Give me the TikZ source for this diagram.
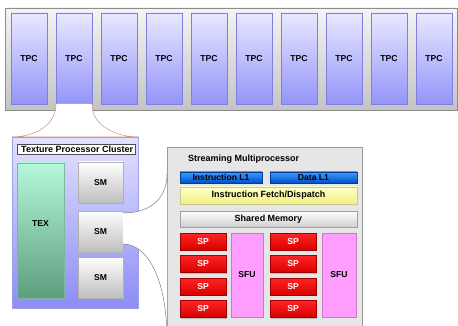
\documentclass[tikz,border=0pt]{standalone}
\usepackage{fontspec}
\setmainfont{Liberation Sans}
\usetikzlibrary{shadows}
\definecolor{bart}{HTML}{F4F4F4}\definecolor{barb}{HTML}{C4C4C4}\definecolor{bard}{HTML}{8C8C8C}
\definecolor{tpct}{HTML}{E8E8FF}\definecolor{tpcbot}{HTML}{9494FA}\definecolor{tpcd}{HTML}{7F7FE0}
\definecolor{clt}{HTML}{E2E2FF}\definecolor{clb}{HTML}{8C8CF5}\definecolor{cld}{HTML}{A0A0E8}
\definecolor{text}{HTML}{B4F7DA}\definecolor{texb}{HTML}{5E9E7E}\definecolor{texd}{HTML}{7CB89A}
\definecolor{smt}{HTML}{FFFFFF}\definecolor{smb}{HTML}{BEBEBE}\definecolor{smd}{HTML}{B0B0B0}
\definecolor{smbox}{HTML}{E6E6E6}\definecolor{smboxd}{HTML}{9A9A9A}
\definecolor{l1t}{HTML}{3D9BFF}\definecolor{l1b}{HTML}{0050C8}\definecolor{l1d}{HTML}{003C9A}
\definecolor{fdt}{HTML}{FFFFCC}\definecolor{fdb}{HTML}{F2F07E}\definecolor{fdd}{HTML}{C8C890}
\definecolor{sht}{HTML}{FFFFFF}\definecolor{shb}{HTML}{CFCFCF}\definecolor{shd}{HTML}{A0A0A0}
\definecolor{spt}{HTML}{FF2424}\definecolor{spb}{HTML}{D80000}\definecolor{spd}{HTML}{A00000}
\definecolor{sfu}{HTML}{FF9EFF}\definecolor{sfud}{HTML}{C878C8}
\definecolor{funnel}{HTML}{D8906C}\definecolor{conn}{HTML}{808080}
\begin{document}
\begin{tikzpicture}[x=1pt,y=-1pt,
  font=\bfseries\fontsize{8.6}{10}\selectfont,
  title/.style={font=\bfseries\fontsize{9}{10}\selectfont},
  box/.style={draw, anchor=north west, inner sep=0pt, outer sep=0pt, line width=0.6pt},
  shad/.style={drop shadow={shadow xshift=1pt,shadow yshift=-1pt,opacity=0.35,fill=black!60}},
  tpcbox/.style={box, shad, draw=tpcd, top color=tpct, bottom color=tpcbot, minimum width=36pt, minimum height=91pt},
  smnode/.style={box, shad, draw=smd, top color=smt, bottom color=smb, minimum width=45pt, minimum height=41pt},
  l1box/.style={box, draw=l1d, top color=l1t, bottom color=l1b, minimum height=11pt},
  spbox/.style={box, shad, draw=spd, top color=spt, bottom color=spb, minimum width=46pt, minimum height=17pt, text=white},
  sfubox/.style={box, shad, draw=sfud, fill=sfu, minimum height=84pt},
]
\useasboundingbox (0,0) rectangle (458,326);
\clip (0,0) rectangle (458,326);
% top bar
\node[box, draw=bard, top color=bart, bottom color=barb, minimum width=452pt, minimum height=102pt, shad] (bar) at (5,8) {};
\foreach \i in {0,...,9} {
  \node[tpcbox] (tpc\i) at (11+45*\i,13) {TPC};
}
% cluster box
\node[box, shad, draw=cld, top color=clt, bottom color=clb, minimum width=126pt, minimum height=171pt] (cluster) at (12,137) {};
\fill[white] (tpc1.south west) .. controls ++(0,24) and ++(18,0) .. (cluster.north west)
   -- (cluster.north east) .. controls ++(-18,0) and ++(0,24) .. (tpc1.south east) -- cycle;
\draw[funnel, line width=0.5pt] (tpc1.south west) .. controls ++(0,24) and ++(18,0) .. (cluster.north west)
   -- (cluster.north east) .. controls ++(-18,0) and ++(0,24) .. (tpc1.south east);
\node[box, draw=black!70, fill=white, line width=0.5pt, minimum width=118pt, minimum height=10pt] (cltitle) at (17,144) {};
\node[title, anchor=west, inner sep=0pt] (cltext) at (21,149.5) {Texture Processor Cluster};
\node[box, shad, draw=texd, top color=text, bottom color=texb, minimum width=47pt, minimum height=135pt,
      label={[yshift=7pt]center:TEX}] (tex) at (17,163) {};
\node[smnode] (sm1) at (78,162) {SM};
\node[smnode] (sm2) at (78,211) {SM};
\node[smnode] (sm3) at (78,257) {SM};
% SM box
\node[box, shad, draw=smboxd, fill=smbox, minimum width=195pt, minimum height=200pt] (smbox) at (167,147) {};
\coordinate (ctop) at (167,174);
\coordinate (cbot) at (167,340);
\fill[white] ([yshift=-2pt]sm2.north east) .. controls ++(32,0) and ++(0,20) .. (ctop) -- (cbot)
   .. controls ++(0,-62) and ++(24,0) .. ([yshift=8pt]sm2.south east) -- cycle;
\draw[conn, line width=0.5pt] ([yshift=-2pt]sm2.north east) .. controls ++(32,0) and ++(0,20) .. (ctop);
\draw[conn, line width=0.5pt] ([yshift=8pt]sm2.south east) .. controls ++(24,0) and ++(0,-62) .. (cbot);
\node[title, anchor=west, inner sep=0pt] (smtitle) at (188,159) {Streaming Multiprocessor};
\node[l1box, minimum width=82pt] (il1) at (180,172) {Instruction L1};
\node[l1box, minimum width=87pt] (dl1) at (270,172) {Data L1};
\node[title, box, draw=fdd, top color=fdt, bottom color=fdb, minimum width=177pt, minimum height=17pt] (fetch) at (180,187) {Instruction Fetch/Dispatch};
\node[title, box, shad, draw=shd, top color=sht, bottom color=shb, minimum width=177pt, minimum height=16pt] (shmem) at (180,211) {Shared Memory};
\foreach \j/\y in {0/233,1/255.5,2/278,3/300.5} {
  \node[spbox] (spa\j) at (180,\y) {SP};
  \node[spbox] (spb\j) at (270,\y) {SP};
}
\node[sfubox, minimum width=32pt] (sfu1) at (231,233) {SFU};
\node[sfubox, minimum width=34pt] (sfu2) at (322,233) {SFU};
\end{tikzpicture}
\end{document}
